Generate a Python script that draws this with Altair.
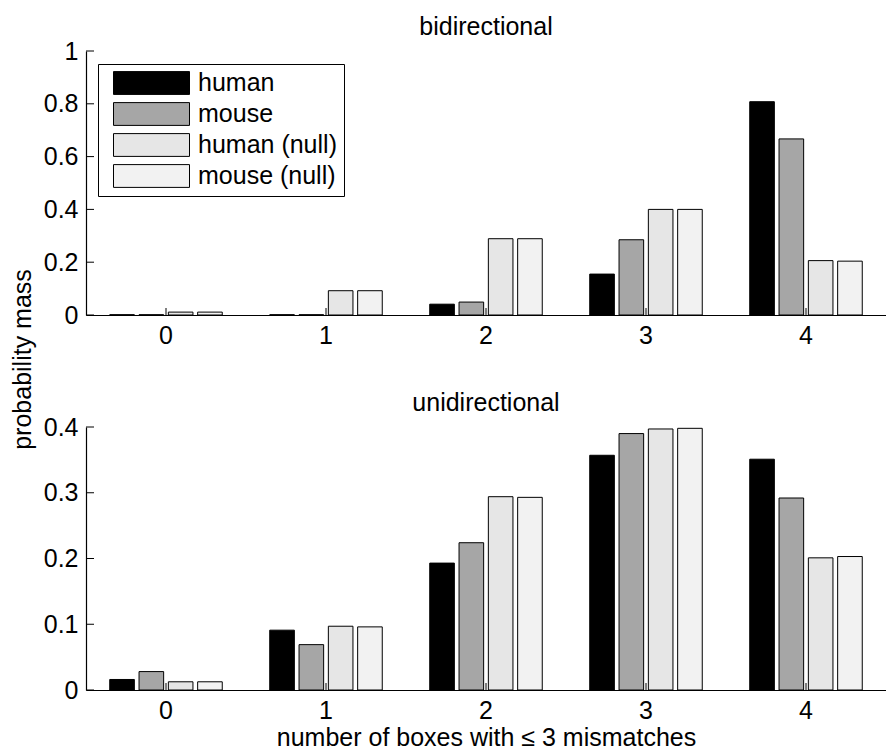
import altair as alt
import pandas as pd

FONT = "Liberation Sans"

categories = ["0", "1", "2", "3", "4"]
series = ["human", "mouse", "human (null)", "mouse (null)"]
colors = ["#000000", "#a6a6a6", "#e6e6e6", "#f2f2f2"]

# bidirectional
bi_human = [0.001, 0.001, 0.041, 0.155, 0.808]
bi_mouse = [0.001, 0.001, 0.049, 0.285, 0.667]
bi_human_null = [0.011, 0.092, 0.289, 0.400, 0.206]
bi_mouse_null = [0.011, 0.092, 0.289, 0.400, 0.204]

# unidirectional
uni_human = [0.016, 0.091, 0.193, 0.357, 0.351]
uni_mouse = [0.028, 0.069, 0.224, 0.390, 0.292]
uni_human_null = [0.0125, 0.097, 0.294, 0.397, 0.201]
uni_mouse_null = [0.0125, 0.096, 0.293, 0.398, 0.203]

bi_ticks = [0, 0.2, 0.4, 0.6, 0.8, 1]
uni_ticks = [0, 0.1, 0.2, 0.3, 0.4]

W = 800


def panel(vals, title, ymax, yticks, H, legend, xtitle, ytitle):
    rows = []
    for s, arr in zip(series, vals):
        for c, v in zip(categories, arr):
            rows.append({"k": c, "s": s, "v": v})
    df = pd.DataFrame(rows)

    xscale = alt.Scale(domain=categories, paddingInner=0, paddingOuter=0)
    yscale = alt.Scale(domain=[0, ymax], nice=False, zero=True)

    xaxis_kwargs = dict(
        labelAngle=0, ticks=False, tickSize=0, grid=False,
        domainColor="black", domainWidth=1.2,
        labelFont=FONT, labelFontSize=25, labelColor="black", labelPadding=8,
        titleFont=FONT, titleFontSize=25, titleFontWeight="normal", titleColor="black",
        titlePadding=2,
    )
    xaxis = alt.Axis(title=xtitle, **xaxis_kwargs) if xtitle else alt.Axis(title=None, **xaxis_kwargs)

    yaxis_kwargs = dict(
        values=yticks, format="~g", ticks=False, tickSize=0, grid=False,
        domainColor="black", domainWidth=1.2,
        labelFont=FONT, labelFontSize=25, labelColor="black", labelPadding=8,
    )
    if ytitle:
        yaxis = alt.Axis(
            title=ytitle, titleFont=FONT, titleFontSize=25, titleFontWeight="normal",
            titleColor="black", titleX=-51, titleY=308, titleAngle=270,
            titleBaseline="bottom", titleAlign="center", **yaxis_kwargs)
    else:
        yaxis = alt.Axis(title=None, **yaxis_kwargs)

    if legend:
        leg = alt.Legend(
            title=None, orient="none", legendX=12, legendY=13,
            symbolType="M-1,-0.3H1V0.3H-1Z", symbolSize=5776, clipHeight=25,
            rowPadding=5, labelFont=FONT, labelFontSize=25, labelColor="black",
            labelOffset=8, padding=6.5, symbolOffset=8.5, strokeColor="black",
            fillColor="white", symbolStrokeColor="black", symbolStrokeWidth=1,
            labelLimit=0, symbolOpacity=1,
        )
    else:
        leg = None

    bars = alt.Chart(df).mark_bar(stroke="black", strokeWidth=1, opacity=1).encode(
        x=alt.X("k:N", scale=xscale, axis=xaxis, sort=categories),
        xOffset=alt.XOffset("s:N", sort=series,
                            scale=alt.Scale(domain=series, paddingInner=0.16, paddingOuter=0.81)),
        y=alt.Y("v:Q", scale=yscale, axis=yaxis),
        fill=alt.Fill("s:N", scale=alt.Scale(domain=series, range=colors), legend=leg),
    )

    xt = alt.Chart(pd.DataFrame({"k": categories})).mark_rule(color="black", strokeWidth=1).encode(
        x=alt.X("k:N", scale=xscale, sort=categories),
        y=alt.value(H), y2=alt.value(H - 7),
    )
    yt = alt.Chart(pd.DataFrame({"v": yticks})).mark_rule(color="black", strokeWidth=1).encode(
        y=alt.Y("v:Q", scale=yscale),
        x=alt.value(0), x2=alt.value(8),
    )

    return alt.layer(bars, xt, yt).properties(
        width=W, height=H,
        title=alt.TitleParams(title, font=FONT, fontSize=25, fontWeight="normal", color="black",
                              anchor="middle", frame="group", offset=19, dy=39.6,
                              baseline="alphabetic"),
    )


top = panel([bi_human, bi_mouse, bi_human_null, bi_mouse_null], "bidirectional", 1.0,
            bi_ticks, 264, True, None, "probability mass")
bottom = panel([uni_human, uni_mouse, uni_human_null, uni_mouse_null], "unidirectional", 0.4,
               uni_ticks, 263, False, "number of boxes with \u2264 3 mismatches", None)

chart = alt.vconcat(top, bottom, spacing=112, bounds="flush").resolve_scale(
    fill="independent"
).properties(
    padding={"left": 2, "top": 6, "right": 0, "bottom": 0}
).configure_view(stroke=None)

chart.save("out.html", embed_options={"renderer": "svg", "actions": False})
